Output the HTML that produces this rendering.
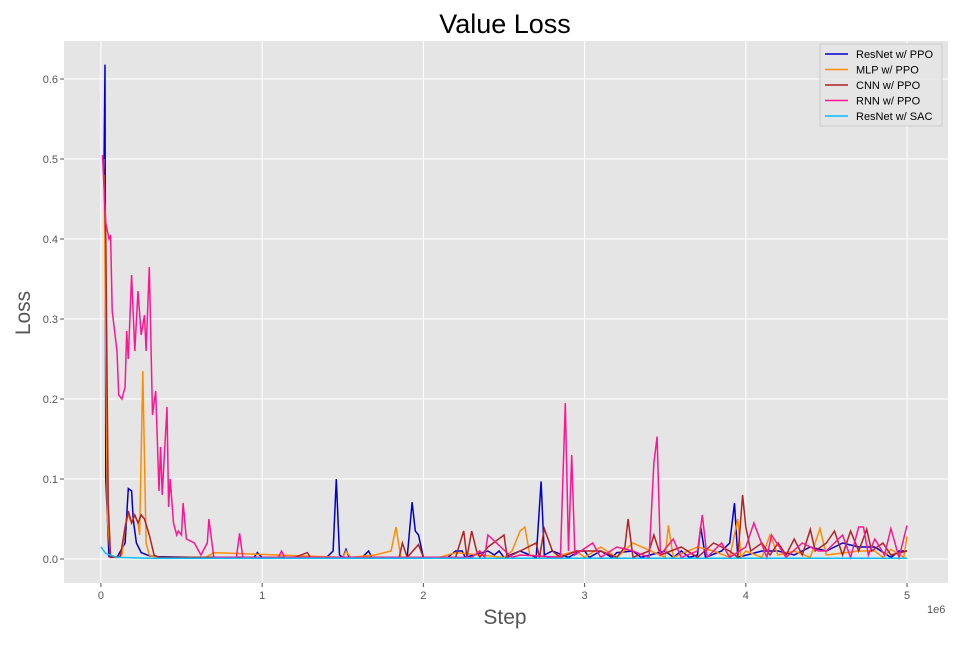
<!DOCTYPE html>
<html><head><meta charset="utf-8"><style>
body{margin:0;background:#fff;font-family:"Liberation Sans",sans-serif}
svg text{font-family:"Liberation Sans",sans-serif}
</style></head><body>
<svg id="c" width="960" height="640" xmlns="http://www.w3.org/2000/svg">
<rect x="64" y="41" width="884" height="542" fill="#e5e5e5"/>
<g id="grid"></g><g id="series"></g><g id="ticks"></g>
<text x="505" y="33" text-anchor="middle" font-size="27" fill="#000">Value Loss</text>
<text x="505" y="624" text-anchor="middle" font-size="21" fill="#555">Step</text>
<text x="0" y="0" transform="translate(30,313) rotate(-90)" text-anchor="middle" font-size="21" fill="#555">Loss</text>
<text x="927" y="613" font-size="11" fill="#555">1e6</text>
<g id="legend"></g>
</svg>
<script>
const xTicks=[0,1,2,3,4,5];
const yTicks=[0.0,0.1,0.2,0.3,0.4,0.5,0.6];
const seriesNames=["ResNet w/ PPO","MLP w/ PPO","CNN w/ PPO","RNN w/ PPO","ResNet w/ SAC"];
const seriesColors=["#0000cd","#ff8c00","#b22222","#ff1493","#00bfff"];
const resnetX=[0.02,0.025,0.03,0.05,0.1,0.15,0.17,0.19,0.2,0.22,0.25,0.3,0.35,0.6,0.95,0.97,1.0,1.4,1.44,1.46,1.48,1.5,1.52,1.54,1.62,1.66,1.68,1.9,1.93,1.95,1.97,2.0,2.15,2.2,2.24,2.26,2.4,2.44,2.47,2.5,2.6,2.7,2.73,2.75,2.8,2.9,2.97,3.0,3.03,3.1,3.17,3.2,3.3,3.35,3.5,3.55,3.6,3.65,3.7,3.72,3.75,3.85,3.9,3.93,3.95,4.1,4.2,4.3,4.4,4.5,4.55,4.6,4.7,4.8,4.9,4.95,5.0];
const resnetY=[0.5,0.618,0.1,0.003,0.002,0.02,0.088,0.085,0.05,0.02,0.008,0.004,0.003,0.002,0.002,0.008,0.002,0.002,0.01,0.1,0.005,0.002,0.012,0.002,0.002,0.01,0.002,0.002,0.071,0.035,0.03,0.002,0.002,0.01,0.01,0.002,0.01,0.005,0.01,0.002,0.01,0.002,0.097,0.005,0.01,0.002,0.01,0.01,0.002,0.01,0.002,0.008,0.01,0.002,0.01,0.002,0.01,0.002,0.005,0.04,0.002,0.01,0.02,0.07,0.002,0.01,0.01,0.005,0.015,0.01,0.015,0.02,0.015,0.015,0.002,0.01,0.01];
const mlpX=[0.02,0.04,0.06,0.1,0.13,0.15,0.17,0.19,0.21,0.23,0.24,0.26,0.28,0.3,0.34,0.5,0.65,0.7,1.5,1.52,1.55,1.7,1.8,1.83,1.86,1.9,2.1,2.2,2.5,2.55,2.6,2.63,2.66,2.8,2.95,3.0,3.1,3.2,3.3,3.5,3.52,3.55,3.7,3.8,3.9,3.95,3.97,4.0,4.1,4.15,4.2,4.3,4.4,4.46,4.5,4.7,4.8,4.85,4.9,4.98,5.0];
const mlpY=[0.48,0.05,0.002,0.002,0.005,0.04,0.055,0.045,0.055,0.045,0.03,0.235,0.02,0.005,0.002,0.002,0.002,0.008,0.002,0.01,0.002,0.005,0.01,0.04,0.002,0.002,0.002,0.008,0.002,0.01,0.035,0.04,0.005,0.002,0.01,0.002,0.015,0.002,0.02,0.002,0.042,0.002,0.015,0.01,0.002,0.05,0.002,0.01,0.002,0.03,0.005,0.01,0.002,0.038,0.005,0.01,0.01,0.002,0.012,0.002,0.028];
const cnnX=[0.015,0.03,0.045,0.06,0.12,0.15,0.17,0.19,0.21,0.23,0.25,0.27,0.3,0.33,0.36,0.6,1.2,1.28,1.3,1.85,1.87,1.9,1.97,2.0,2.1,2.2,2.25,2.27,2.3,2.33,2.35,2.4,2.5,2.52,2.6,2.7,2.72,2.75,2.8,2.85,2.95,3.1,3.2,3.25,3.27,3.3,3.4,3.43,3.47,3.6,3.7,3.8,3.9,3.95,3.98,4.0,4.03,4.1,4.15,4.2,4.25,4.3,4.35,4.4,4.43,4.5,4.55,4.6,4.65,4.7,4.75,4.78,4.85,4.9,5.0];
const cnnY=[0.5,0.4,0.07,0.002,0.003,0.04,0.06,0.045,0.055,0.045,0.055,0.05,0.03,0.005,0.002,0.002,0.002,0.008,0.002,0.002,0.02,0.002,0.018,0.002,0.002,0.002,0.035,0.002,0.035,0.01,0.002,0.015,0.03,0.002,0.01,0.02,0.002,0.038,0.01,0.002,0.01,0.01,0.002,0.015,0.05,0.002,0.01,0.03,0.005,0.015,0.002,0.02,0.01,0.002,0.08,0.04,0.01,0.02,0.005,0.02,0.005,0.025,0.005,0.037,0.01,0.02,0.035,0.005,0.035,0.01,0.037,0.01,0.02,0.005,0.01];
const rnnX=[0.01,0.03,0.05,0.06,0.07,0.1,0.11,0.13,0.15,0.16,0.17,0.19,0.21,0.23,0.25,0.27,0.28,0.3,0.32,0.34,0.36,0.37,0.38,0.41,0.42,0.43,0.45,0.47,0.48,0.5,0.51,0.53,0.58,0.62,0.66,0.67,0.7,0.84,0.86,0.88,1.1,1.12,1.14,2.3,2.35,2.38,2.4,2.55,2.6,2.85,2.88,2.9,2.92,2.94,3.05,3.1,3.2,3.3,3.4,3.43,3.45,3.47,3.55,3.6,3.7,3.73,3.76,3.85,3.9,4.0,4.05,4.13,4.16,4.25,4.35,4.45,4.5,4.6,4.65,4.7,4.73,4.76,4.8,4.86,4.9,4.95,5.0];
const rnnY=[0.505,0.42,0.4,0.405,0.31,0.26,0.205,0.2,0.215,0.285,0.25,0.355,0.26,0.335,0.28,0.305,0.26,0.365,0.18,0.21,0.085,0.14,0.08,0.19,0.065,0.1,0.045,0.03,0.035,0.03,0.07,0.025,0.02,0.005,0.02,0.05,0.002,0.002,0.032,0.002,0.002,0.01,0.002,0.002,0.01,0.002,0.03,0.002,0.005,0.002,0.195,0.01,0.13,0.005,0.02,0.002,0.015,0.01,0.002,0.12,0.153,0.005,0.025,0.002,0.01,0.055,0.002,0.02,0.002,0.015,0.045,0.002,0.03,0.002,0.02,0.01,0.01,0.03,0.002,0.04,0.04,0.005,0.025,0.005,0.038,0.002,0.042];
const sacX=[0.0,0.03,0.1,0.3,1.0,2.0,3.0,4.0,5.0];
const sacY=[0.015,0.007,0.002,0.001,0.001,0.001,0.001,0.001,0.001];
const allX=[resnetX,mlpX,cnnX,rnnX,sacX], allY=[resnetY,mlpY,cnnY,rnnY,sacY];
const NS="http://www.w3.org/2000/svg";
const X0=64,X1=948,Y0=41,Y1=583,xMin=-0.229,xMax=5.254,yMin=-0.03,yMax=0.6475;
const sx=v=>X0+(v-xMin)/(xMax-xMin)*(X1-X0);
const sy=v=>Y1-(v-yMin)/(yMax-yMin)*(Y1-Y0);
function mk(t,a,p){const e=document.createElementNS(NS,t);for(const k in a)e.setAttribute(k,a[k]);p.appendChild(e);return e;}
const grid=document.getElementById('grid'),ticks=document.getElementById('ticks');
xTicks.forEach(t=>{
 const l=mk('line',{x1:sx(t),x2:sx(t),y1:Y0,y2:Y1,stroke:'#fff','stroke-width':1},grid);
 
 
 const tm=mk('line',{x1:sx(t),x2:sx(t),y1:Y1,y2:Y1+4,stroke:'#555','stroke-width':1},ticks);
 
 
 const tx=mk('text',{x:sx(t),y:Y1+16,'text-anchor':'middle','font-size':11,fill:'#555'},ticks);
 tx.textContent=t;
 
 
});
yTicks.forEach(t=>{
 const l=mk('line',{x1:X0,x2:X1,y1:sy(t),y2:sy(t),stroke:'#fff','stroke-width':1},grid);
 
 
 const tm=mk('line',{x1:X0-4,x2:X0,y1:sy(t),y2:sy(t),stroke:'#555','stroke-width':1},ticks);
 
 
 const tx=mk('text',{x:X0-6,y:sy(t)+4,'text-anchor':'end','font-size':11,fill:'#555'},ticks);
 tx.textContent=t.toFixed(1);
 
 
});
const sg=document.getElementById('series');
allX.forEach((xs,i)=>{
 const d=xs.map((x,j)=>(j?'L':'M')+sx(x).toFixed(1)+','+sy(allY[i][j]).toFixed(1)).join('');
 const p=mk('path',{d:d,fill:'none',stroke:seriesColors[i],'stroke-width':1.5},sg);
 
 
});
const lg=document.getElementById('legend');
mk('rect',{x:820,y:44,width:122,height:82,fill:'#e5e5e5',stroke:'#ccc','fill-opacity':0.8},lg);
seriesNames.forEach((n,i)=>{
 const y=54+i*15.5;
 const l=mk('line',{x1:825,x2:848,y1:y,y2:y,stroke:seriesColors[i],'stroke-width':1.5},lg);
 
 
 const t=mk('text',{x:856,y:y+4,'font-size':11,fill:'#000'},lg);
 t.textContent=n;
 
 
});
</script>
</body></html>
